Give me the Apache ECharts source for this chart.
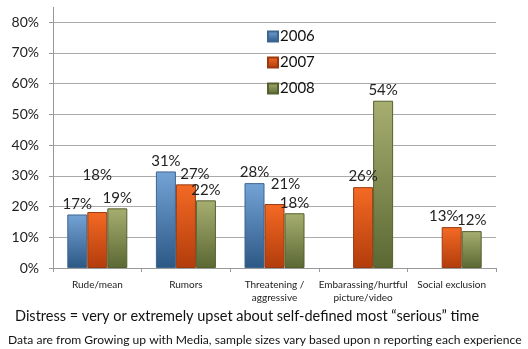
<!DOCTYPE html>
<html>
<head>
<meta charset="utf-8">
<script src="https://cdn.jsdelivr.net/npm/echarts@6/dist/echarts.min.js"></script>
<style>
html,body{margin:0;padding:0;background:#fff;}
#main{width:528px;height:349px;}
</style>
</head>
<body>
<div id="main"></div>
<script>
// 数据
var categories = ['Rude/mean', 'Rumors', 'Threatening /\naggressive', 'Embarassing/hurtful\npicture/video', 'Social exclusion'];
var years = ['2006', '2007', '2008'];
var values2006 = [17.4, 31.4, 27.6, null, null];
var values2007 = [18.2, 27.2, 20.8, 26.3, 13.3];
var values2008 = [19.4, 22.0, 17.8, 54.4, 12.0];
var yTicks = [0, 10, 20, 30, 40, 50, 60, 70, 80];

// 标签微调(与原图一致, 避免重叠)
var labelShift2007 = [[0, -26], [9, 0], [11, -9], [0, 0], [-8, 0]];

var fontName = 'Lato, "Open Sans", sans-serif';
var gridBox = {left: 53, right: 32, top: 22, bottom: 81};

function grad(top, bottom) {
	return {
		type: 'linear', x: 0, y: 0, x2: 0, y2: 1,
		colorStops: [{offset: 0, color: top}, {offset: 1, color: bottom}]
	};
}

function makeSeries(name, data, c1, c2, border, shifts) {
	var items = data.map(function(v, i) {
		var it = {value: v};
		if (shifts && (shifts[i][0] || shifts[i][1])) {
			it.label = {offset: shifts[i]};
		}
		return it;
	});
	return {
		name: name,
		type: 'bar',
		data: items,
		barWidth: 20,
		barGap: '0%',
		itemStyle: {
			color: grad(c1, c2),
			borderColor: border,
			borderWidth: 1
		},
		label: {
			show: true,
			position: 'top',
			distance: 3,
			color: '#222',
			fontFamily: fontName,
			fontSize: 15,
			formatter: function(p) { return Math.round(p.value) + '%'; }
		}
	};
}

var myChart = echarts.init(document.getElementById('main'));
var option = {
	animation: false,
	textStyle: {fontFamily: fontName},
	grid: gridBox,
	legend: {
		orient: 'vertical',
		left: 262,
		top: 24,
		itemWidth: 10,
		itemHeight: 10,
		itemGap: 11,
		icon: 'rect',
		data: years,
		textStyle: {fontSize: 15, color: '#111', fontFamily: fontName, padding: [0, 0, 0, -3]}
	},
	xAxis: {
		type: 'category',
		data: categories,
		axisLine: {lineStyle: {color: '#999'}},
		axisTick: {show: true, length: 4, lineStyle: {color: '#999'}},
		axisLabel: {color: '#222', fontSize: 10, lineHeight: 13, margin: 10, interval: 0}
	},
	yAxis: {
		type: 'value',
		min: yTicks[0],
		max: yTicks[yTicks.length - 1],
		interval: 10,
		axisLine: {show: true, lineStyle: {color: '#999'}},
		axisTick: {show: true, length: 4, lineStyle: {color: '#999'}},
		axisLabel: {color: '#222', fontSize: 14, margin: 14, formatter: '{value}%'},
		splitLine: {lineStyle: {color: '#aaa'}}
	},
	graphic: [{
		type: 'text',
		left: 15,
		top: 309,
		style: {text: 'Distress = very or extremely upset about self-defined most \u201cserious\u201d time', fontSize: 14.5, fill: '#111', fontFamily: fontName}
	}, {
		type: 'text',
		left: 8,
		top: 334,
		style: {text: 'Data are from Growing up with Media, sample sizes vary based upon n reporting each experience', fontSize: 12.1, fill: '#111', fontFamily: fontName}
	}, {
		// y轴线向上延伸一点
		type: 'line',
		shape: {x1: gridBox.left + 0.5, y1: gridBox.top - 15, x2: gridBox.left + 0.5, y2: gridBox.top},
		style: {stroke: '#999', lineWidth: 1}
	}],
	series: [
		makeSeries(years[0], values2006, '#74a3d6', '#2c5885', '#3d6590'),
		makeSeries(years[1], values2007, '#f46a24', '#b23c0c', '#9a3a10', labelShift2007),
		makeSeries(years[2], values2008, '#a7ae70', '#5b6833', '#55602f')
	]
};
myChart.setOption(option);
</script>
</body>
</html>
